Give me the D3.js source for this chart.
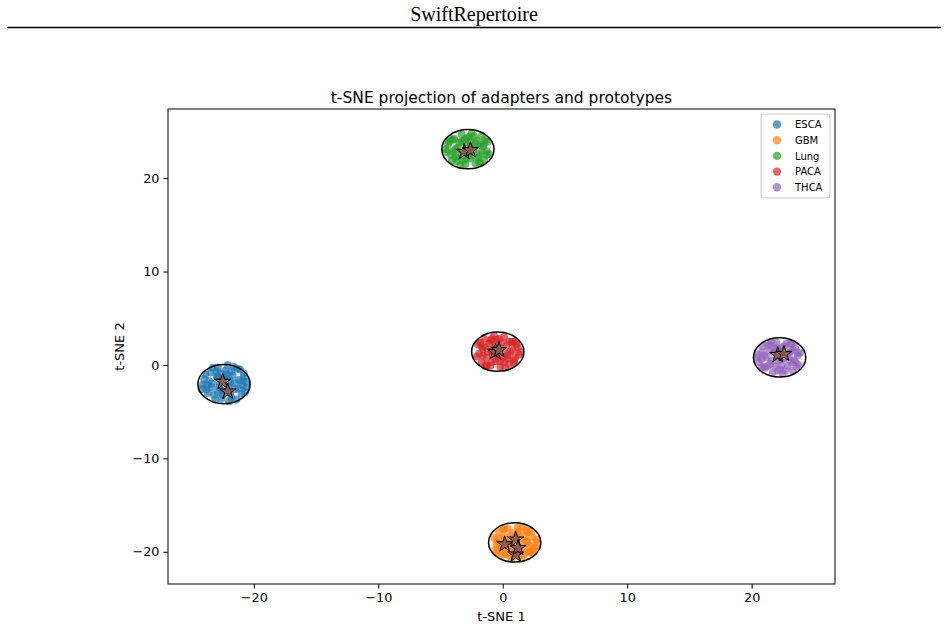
<!DOCTYPE html>
<html><head><meta charset="utf-8">
<script src="https://cdn.jsdelivr.net/npm/d3@7"></script>
<style>body{margin:0;background:#fff;}svg{display:block;}</style>
</head><body>
<script>
const categories = ["ESCA","GBM","Lung","PACA","THCA"];
const colors = ["#1f77b4","#ff7f0e","#2ca02c","#d62728","#9467bd"];
const xTicks = [-20,-10,0,10,20];
const yTicks = [-20,-10,0,10,20];

const escaPts = [[-24.0,-1.5],[-23.8,-2.6],[-23.5,-0.8],[-23.4,-2.0],[-23.2,-3.2],[-23.0,-1.2],[-22.9,-0.3],[-22.8,-2.4],[-22.6,-3.6],[-22.5,-1.6],[-22.3,-0.6],[-22.2,-2.9],[-22.1,0.0],[-21.9,-1.9],[-21.8,-3.5],[-21.7,-1.1],[-21.5,-2.6],[-21.3,-0.4],[-21.2,-1.6],[-21.0,-3.1],[-20.9,-2.2],[-20.8,-0.9],[-20.6,-1.8],[-20.7,-2.9],[-23.7,-3.0],[-24.1,-2.1],[-22.7,-0.9],[-22.0,-2.3],[-21.6,-0.2],[-23.1,-3.7],[-22.4,-1.3],[-21.4,-3.7],[-23.3,-0.3],[-20.8,-1.3],[-22.0,-3.9],[-23.9,-1.0],[-24.2,-2.6],[-20.6,-2.4],[-22.8,-1.9],[-21.1,-0.5],
  [-23.6,-1.7],[-22.9,-2.9],[-22.2,-1.0],[-21.5,-1.9],[-21.9,-3.0],[-23.0,-0.7],[-21.2,-2.5],[-22.6,-2.7],[-23.4,-2.4],[-21.8,-0.7],[-22.5,-3.2],[-20.9,-1.7],[-23.8,-2.2],[-22.0,-1.5],[-22.9,-1.3]];
const gbmPts = [[2.6,-19.5],[2.4,-18.4],[2.1,-20.1],[2.0,-19.0],[1.9,-17.7],[1.7,-19.7],[1.5,-20.6],[1.4,-18.5],[1.2,-17.4],[1.1,-19.4],[0.9,-20.3],[0.8,-18.0],[0.7,-20.7],[0.5,-19.1],[0.4,-17.5],[0.3,-19.9],[0.1,-18.4],[-0.1,-20.4],[-0.2,-19.3],[-0.3,-17.9],[-0.5,-18.8],[-0.6,-19.8],[-0.7,-18.5],[2.7,-18.7],[2.3,-17.8],[1.3,-20.0],[0.6,-18.7],[0.0,-19.5],[1.8,-18.3],[1.0,-18.7],[0.1,-17.6],[2.2,-20.0],[1.6,-17.3],[-0.4,-20.0],[0.8,-19.8],[2.4,-20.1],[0.5,-20.4],[1.2,-18.0],[0.0,-17.5],[2.8,-19.0],
  [2.2,-19.3],[1.5,-18.9],[0.7,-19.4],[1.9,-18.8],[0.3,-18.9],[1.4,-19.6],[-0.2,-18.6],[1.0,-20.0],[2.5,-19.7],[0.6,-18.3],[1.7,-20.3],[0.2,-20.2],[1.3,-17.8],[-0.5,-19.3],[2.0,-17.9]];
const lungPts = [[-4.4,23.6],[-4.2,22.5],[-3.9,24.2],[-3.8,23.1],[-3.7,21.8],[-3.5,23.8],[-3.3,24.7],[-3.2,22.6],[-3.0,21.5],[-2.9,23.5],[-2.7,24.4],[-2.6,22.1],[-2.5,24.8],[-2.3,23.2],[-2.2,21.6],[-2.1,24.0],[-1.9,22.5],[-1.7,24.5],[-1.6,23.4],[-1.5,22.0],[-1.3,22.9],[-1.2,23.9],[-1.1,22.6],[-4.5,22.8],[-4.1,21.9],[-3.1,24.1],[-2.4,22.8],[-1.8,23.6],[-3.6,22.4],[-2.8,22.8],[-1.9,21.7],[-4.0,24.1],[-3.4,21.4],[-1.4,24.1],[-2.6,23.9],[-4.2,24.2],[-2.3,24.5],[-3.0,22.1],[-1.8,21.6],[-4.6,23.1],
  [-3.6,23.3],[-3.0,22.7],[-2.2,23.7],[-1.7,22.9],[-3.3,23.9],[-2.5,22.4],[-4.0,22.9],[-1.5,23.7],[-2.9,24.3],[-3.8,22.2],[-2.0,22.2],[-2.6,23.4],[-4.3,23.9],[-1.3,22.5],[-3.2,21.9]];
const pacaPts = [[1.2,1.9],[1.0,0.8],[0.7,2.5],[0.6,1.4],[0.5,0.1],[0.3,2.1],[0.1,3.0],[0.0,0.9],[-0.2,-0.2],[-0.3,1.8],[-0.5,2.7],[-0.6,0.4],[-0.7,3.1],[-0.9,1.5],[-1.0,-0.1],[-1.1,2.3],[-1.3,0.8],[-1.5,2.8],[-1.6,1.7],[-1.7,0.3],[-1.9,1.2],[-2.0,2.2],[-2.1,0.9],[1.3,1.1],[0.9,0.2],[-0.1,2.4],[-0.8,1.1],[-1.4,1.9],[0.4,0.7],[-0.4,1.1],[-1.3,0.0],[0.8,2.4],[0.2,-0.3],[-1.8,2.4],[-0.6,2.2],[1.0,2.5],[-0.9,2.8],[-0.2,0.4],[-1.4,-0.1],[1.4,1.4],
  [0.8,1.6],[0.2,1.3],[-0.5,0.8],[-1.2,1.4],[0.5,2.5],[-0.3,2.8],[-1.6,1.0],[0.9,0.5],[-0.9,0.3],[-1.7,2.0],[0.1,0.3],[-0.7,1.8],[1.1,2.2],[-1.0,2.6],[0.4,1.0]];
const thcaPts = [[20.6,0.3],[20.8,1.4],[21.1,-0.3],[21.2,0.8],[21.3,2.1],[21.5,0.1],[21.7,-0.8],[21.8,1.3],[22.0,2.4],[22.1,0.4],[22.3,-0.5],[22.4,1.8],[22.5,-0.9],[22.7,0.7],[22.8,2.3],[22.9,-0.1],[23.1,1.4],[23.3,-0.6],[23.4,0.5],[23.5,1.9],[23.7,1.0],[23.8,0.0],[23.9,1.3],[20.5,1.1],[20.9,2.0],[21.9,-0.2],[22.6,1.1],[23.2,0.3],[21.4,1.5],[22.2,1.1],[23.1,2.2],[21.0,-0.2],[21.6,2.5],[23.6,-0.2],[22.4,0.0],[20.8,-0.3],[22.7,-0.6],[22.0,1.8],[23.2,2.3],[20.4,0.8],
  [21.0,1.0],[21.6,0.5],[22.4,0.6],[23.0,0.8],[21.8,1.8],[22.6,2.0],[23.5,0.3],[21.3,-0.1],[22.1,-0.6],[23.3,1.6],[20.8,0.6],[22.9,1.2],[21.5,2.2],[22.3,1.5],[23.7,1.3]];
const pointSets = [escaPts, gbmPts, lungPts, pacaPts, thcaPts];

const prototypes = [[-22.5,-1.8],[-22.1,-2.85],[0.16,-19.2],[1.04,-18.7],[1.04,-20.3],[1.23,-19.6],[-3.1,22.8],[-2.6,23.0],[-0.6,1.4],[-0.3,1.6],[22.1,1.07],[22.6,1.18]];
const ellipseCenters = [[-22.4,-2.05],[0.96,-19.0],[-2.8,23.1],[-0.4,1.42],[22.25,0.8]];
const ellipseRadius = [2.1,2.1,2.1,2.1,2.1];

const W = 948, H = 627;
const svg = d3.select("body").append("svg").attr("width", W).attr("height", H);

svg.append("text").attr("x", 474).attr("y", 21).attr("text-anchor","middle")
  .attr("font-family","'Liberation Serif','DejaVu Serif',serif").attr("font-size",20).text("SwiftRepertoire");
svg.append("line").attr("x1",7).attr("x2",941).attr("y1",27.5).attr("y2",27.5).attr("stroke","#000").attr("stroke-width",1.3);

const L = 168, R = 835, T = 109, B = 584;
const x = d3.scaleLinear().domain([-26.9, 26.7]).range([L, R]);
const y = d3.scaleLinear().domain([-23.45, 27.4]).range([B, T]);
const font = "'DejaVu Sans', sans-serif";

svg.append("clipPath").attr("id","c").append("rect").attr("x",L).attr("y",T).attr("width",R-L).attr("height",B-T);
const g = svg.append("g").attr("clip-path","url(#c)");

pointSets.forEach((pts, i) => {
  g.append("g").selectAll("circle").data(pts).join("circle")
    .attr("cx", d => x(d[0])).attr("cy", d => y(d[1])).attr("r", 3.9)
    .attr("fill", colors[i]).attr("fill-opacity", 0.7);
});

ellipseCenters.forEach((c, i) => {
  g.append("ellipse").attr("cx", x(c[0])).attr("cy", y(c[1]))
    .attr("rx", x(c[0] + ellipseRadius[i]) - x(c[0]))
    .attr("ry", y(c[1]) - y(c[1] + ellipseRadius[i]))
    .attr("fill","none").attr("stroke","#000").attr("stroke-width",1.5);
});

const star = d3.symbol().type(d3.symbolStar).size(80);
g.append("g").selectAll("path").data(prototypes).join("path")
  .attr("d", star).attr("transform", d => `translate(${x(d[0])},${y(d[1])})`)
  .attr("fill","#8c564b").attr("fill-opacity",0.9).attr("stroke","#000").attr("stroke-width",1);

const fmt = d => d < 0 ? "\u2212" + Math.abs(d) : d;
const xAxis = d3.axisBottom(x).tickValues(xTicks).tickSize(4.5).tickPadding(4).tickFormat(fmt);
const yAxis = d3.axisLeft(y).tickValues(yTicks).tickSize(4.5).tickPadding(4).tickFormat(fmt);
const gx = svg.append("g").attr("transform", `translate(0,${B})`).call(xAxis);
const gy = svg.append("g").attr("transform", `translate(${L},0)`).call(yAxis);
[gx, gy].forEach(a => {
  a.select(".domain").remove();
  a.selectAll("text").attr("font-family", font).attr("font-size", 12.8).attr("fill","#000");
  a.selectAll("line").attr("stroke","#000").attr("stroke-width",1);
});

svg.append("rect").attr("x",L).attr("y",T).attr("width",R-L).attr("height",B-T)
  .attr("fill","none").attr("stroke","#000").attr("stroke-width",1);

svg.append("text").attr("x",(L+R)/2).attr("y",103).attr("text-anchor","middle")
  .attr("font-family",font).attr("font-size",15.5).text("t-SNE projection of adapters and prototypes");
svg.append("text").attr("x",(L+R)/2).attr("y",621).attr("text-anchor","middle")
  .attr("font-family",font).attr("font-size",13).text("t-SNE 1");
svg.append("text").attr("transform",`translate(124,${(T+B)/2}) rotate(-90)`).attr("text-anchor","middle")
  .attr("font-family",font).attr("font-size",13).text("t-SNE 2");

const lg = svg.append("g");
lg.append("rect").attr("x",761).attr("y",114).attr("width",69).attr("height",84).attr("rx",3)
  .attr("fill","#fff").attr("fill-opacity",0.8).attr("stroke","#ccc").attr("stroke-width",1);
categories.forEach((c, i) => {
  const yy = 124.5 + i * 15.7;
  lg.append("circle").attr("cx",777).attr("cy",yy).attr("r",4.2).attr("fill",colors[i]).attr("fill-opacity",0.7);
  lg.append("text").attr("x",795).attr("y",yy+3.6).attr("font-family",font).attr("font-size",10).text(c);
});
</script>
</body></html>
